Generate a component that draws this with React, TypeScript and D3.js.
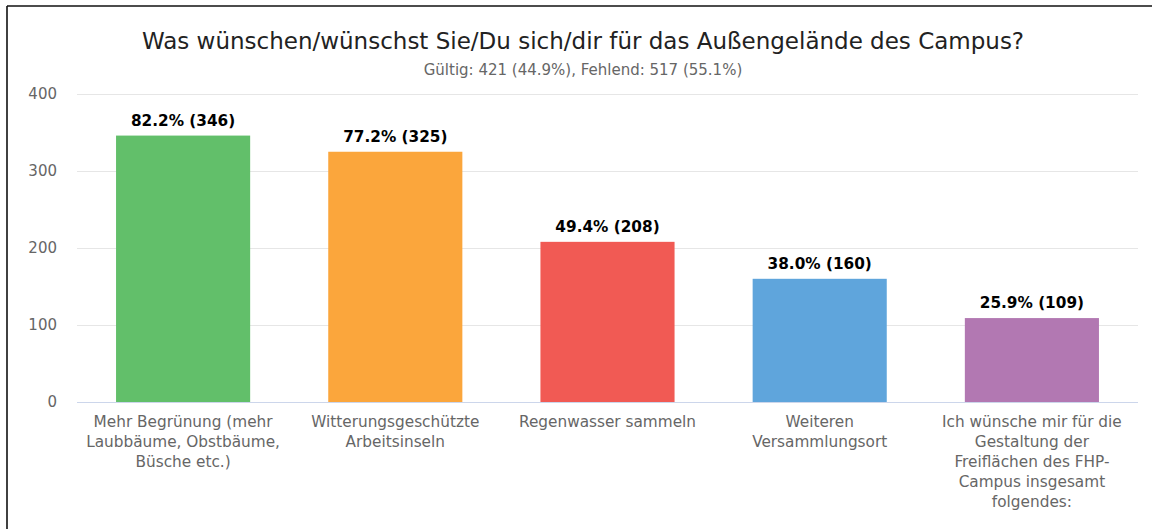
import React from "react";
import * as d3 from "d3";

const categories: string[][] = [
  ["Mehr Begrünung (mehr", "Laubbäume, Obstbäume,", "Büsche etc.)"],
  ["Witterungsgeschützte", "Arbeitsinseln"],
  ["Regenwasser sammeln"],
  ["Weiteren", "Versammlungsort"],
  ["Ich wünsche mir für die", "Gestaltung der", "Freiflächen des FHP-", "Campus insgesamt", "folgendes:"],
];
const values: number[] = [346, 325, 208, 160, 109];
const percents: string[] = ["82.2%", "77.2%", "49.4%", "38.0%", "25.9%"];
const colors: string[] = ["#62bf6a", "#fba63c", "#f15a54", "#5fa5dc", "#b278b2"];
const yTicks: number[] = [0, 100, 200, 300, 400];
const title = "Was wünschen/wünschst Sie/Du sich/dir für das Außengelände des Campus?";
const subtitle = "Gültig: 421 (44.9%), Fehlend: 517 (55.1%)";

export default function App() {
  const W = 1152, H = 529;
  const left = 77, right = 1138, top = 94, bottom = 402;
  const x = d3.scaleBand<number>().domain(values.map((_, i) => i)).range([left, right]).paddingInner(0.368).paddingOuter(0.184);
  const y = d3.scaleLinear().domain([0, 400]).range([bottom, top]);
  const font = "'DejaVu Sans', sans-serif";
  return (
    <svg width={W} height={H} style={{ position: "absolute", left: 0, top: 0, background: "#fff" }} fontFamily={font}>
      <rect x={0} y={0} width={W} height={H} fill="#fff" />
      <line x1={7} y1={6} x2={W} y2={6} stroke="#111" strokeWidth={1.6} />
      <line x1={7} y1={6} x2={7} y2={H} stroke="#111" strokeWidth={1.6} />
      <text x={583} y={49} textAnchor="middle" fontSize={23} fill="#222">{title}</text>
      <text x={583} y={75} textAnchor="middle" fontSize={15} fill="#666">{subtitle}</text>
      {yTicks.map((t) => (
        <g key={t}>
          {t > 0 && <line x1={left} x2={right} y1={y(t) + 0.5} y2={y(t) + 0.5} stroke="#e6e6e6" />}
          <text x={57} y={y(t) + 5} textAnchor="end" fontSize={15} fill="#666">{t}</text>
        </g>
      ))}
      {values.map((v, i) => {
        const bx = x(i)!;
        const bw = x.bandwidth();
        const cx = bx + bw / 2;
        return (
          <g key={i}>
            <rect x={bx} y={y(v)} width={bw} height={y(0) - y(v)} fill={colors[i]} />
            <text x={cx} y={y(v) - 10} textAnchor="middle" fontSize={15.3} fontWeight="bold" fill="#000">
              {`${percents[i]} (${v})`}
            </text>
            {categories[i].map((line, j) => (
              <text key={j} x={cx} y={427 + j * 20} textAnchor="middle" fontSize={15.3} fill="#666">{line}</text>
            ))}
          </g>
        );
      })}
      <line x1={left} x2={right} y1={bottom + 0.5} y2={bottom + 0.5} stroke="#ccd6eb" />
    </svg>
  );
}
